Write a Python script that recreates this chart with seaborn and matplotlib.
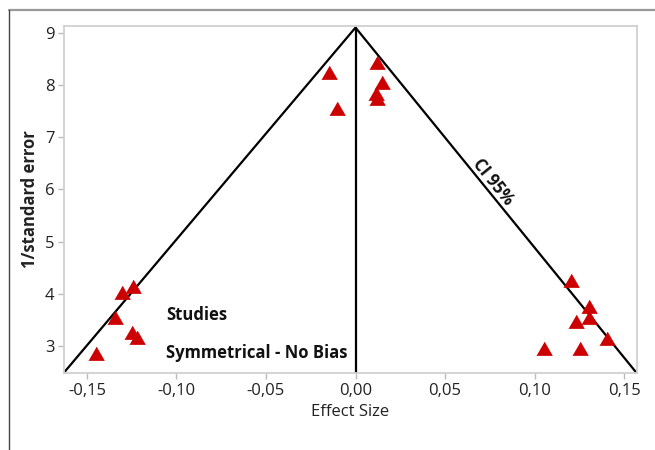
import matplotlib
matplotlib.use("Agg")
import matplotlib.pyplot as plt
from matplotlib.lines import Line2D
import seaborn as sns
import pandas as pd
from matplotlib.ticker import FuncFormatter

# ---- data ----
effect_size = [-0.0150, -0.0101, 0.0121, 0.0149, 0.0114, 0.0121,
               -0.1304, -0.1242, -0.1344, -0.1250, -0.1222, -0.1451,
               0.1202, 0.1306, 0.1232, 0.1306, 0.1403, 0.1053, 0.1254]
inv_se = [8.23, 7.53, 8.43, 8.04, 7.83, 7.74,
          4.02, 4.13, 3.53, 3.24, 3.15, 2.85,
          4.24, 3.74, 3.45, 3.53, 3.14, 2.94, 2.94]
funnel_x = [-0.163, 0.0, 0.157]
funnel_y = [2.48, 9.10, 2.48]
center_x = [0.0, 0.0]
center_y = [2.48, 9.10]
x_ticks = [-0.15, -0.10, -0.05, 0.00, 0.05, 0.10, 0.15]
y_ticks = [3, 4, 5, 6, 7, 8, 9]

sns.set_style("white")
plt.rcParams['font.family'] = ['Open Sans', 'DejaVu Sans']

fig = plt.figure(figsize=(6.55, 4.5), dpi=100)
ax = fig.add_axes([64/655, 1-373/450, (637-64)/655, (373-26)/450])

df = pd.DataFrame({"x": effect_size, "y": inv_se})
fdf = pd.DataFrame({"x": funnel_x, "y": funnel_y})
cdf = pd.DataFrame({"x": center_x, "y": center_y})

sns.lineplot(data=fdf, x="x", y="y", sort=False, estimator=None, color="black", lw=1.6, ax=ax)
sns.lineplot(data=cdf, x="x", y="y", sort=False, estimator=None, color="black", lw=1.6, ax=ax)
tri = [(-1, -0.78), (1, -0.78), (0, 0.95)]
sns.scatterplot(data=df, x="x", y="y", marker=tri, s=125, color="#cc0000",
                edgecolor="#cc0000", linewidth=0.5, ax=ax, zorder=3)

ax.set_xlim(-0.1628, 0.1572)
ax.set_ylim(2.48, 9.13)
ax.set_xticks(x_ticks)
ax.set_yticks(y_ticks)
ax.xaxis.set_major_formatter(FuncFormatter(lambda v, p: f"{v:.2f}".replace(".", ",").replace("-0,00", "0,00")))
ax.yaxis.set_major_formatter(FuncFormatter(lambda v, p: f"{v:.0f}"))
ax.tick_params(axis="both", which="major", labelsize=12, length=4, width=1,
               color="#bbbbbb", labelcolor="#222222", direction="out",
               bottom=True, left=True, pad=3)
for s in ax.spines.values():
    s.set_color("#d0d0d0")
    s.set_linewidth(1.3)

ax.set_xlabel("Effect Size", fontsize=12, color="#222222", labelpad=4)
ax.set_ylabel("1/standard error", fontsize=12, fontweight="bold", color="#222222", labelpad=4)

ax.text(-0.1059, 3.59, "Studies", fontsize=12, fontweight="bold", va="center", ha="left", color="#111111")
ax.text(-0.1059, 2.87, "Symmetrical - No Bias", fontsize=12, fontweight="bold", va="center", ha="left", color="#111111")
ax.text(0.0765, 6.15, "CI 95%", fontsize=12, fontweight="bold", rotation=-51,
        rotation_mode="anchor", va="center", ha="center", color="#111111")

fig.add_artist(Line2D([9/655, 1.0], [1-10/450, 1-10/450], color="#999999", lw=1.6, transform=fig.transFigure))
fig.add_artist(Line2D([9/655, 9/655], [0, 1-10/450], color="#444444", lw=1.0, transform=fig.transFigure))

fig.savefig("out.png", dpi=100)
